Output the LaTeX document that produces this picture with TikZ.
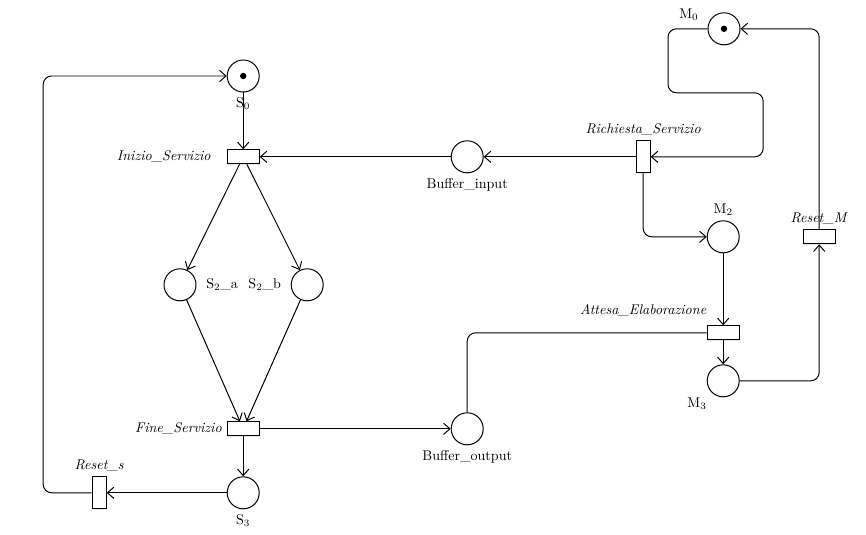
\documentclass[tikz,border=0pt]{standalone}
\usetikzlibrary{petri,arrows.meta,shadows}

\begin{document}
\begin{tikzpicture}[
  >={Straight Barb[length=1.6mm,width=2.8mm]},
  every place/.style={draw,line width=0.7pt,fill=white,minimum size=0.8cm,
    drop shadow={shadow xshift=0.5pt,shadow yshift=-0.6pt,opacity=0.2}},
  every transition/.style={draw,line width=0.7pt,fill=white,
    drop shadow={shadow xshift=0.5pt,shadow yshift=-0.6pt,opacity=0.2}},
  htrans/.style={transition,minimum width=0.8cm,minimum height=0.35cm,inner sep=0pt},
  vtrans/.style={transition,minimum width=0.35cm,minimum height=0.8cm,inner sep=0pt},
  every token/.style={fill=black,minimum size=1.6mm,inner sep=0pt},
  arc/.style={->,line width=0.7pt,rounded corners=6pt},
  label distance=0pt
]

\useasboundingbox (0,0) rectangle (21.65,13.35);

% places
\node[place,tokens=1,label=below:S$_0$] (s0) at (6.08,11.45) {};
\node[place,tokens=1,label={[yshift=0.35cm,label distance=0.1cm]left:M$_0$}] (m0) at (18.1,12.63) {};
\node[place,label=below:Buffer\_input] (bin) at (11.68,9.43) {};
\node[place,label=above:M$_2$] (m2) at (18.08,7.43) {};
\node[place,label={[label distance=0.12cm]right:S$_2$\_a}] (s2a) at (4.5,6.23) {};
\node[place,label={[label distance=0.12cm]left:S$_2$\_b}] (s2b) at (7.68,6.23) {};
\node[place,label=below left:M$_3$] (m3) at (18.08,3.83) {};
\node[place,label=below:Buffer\_output] (bout) at (11.68,2.63) {};
\node[place,label=below:S$_3$] (s3) at (6.08,1.03) {};

% transitions
\node[htrans,label={[label distance=0.28cm]left:\textit{Inizio\_Servizio}}] (ini) at (6.08,9.43) {};
\node[vtrans,label=above:\textit{Richiesta\_Servizio}] (ric) at (16.08,9.43) {};
\node[htrans,label=above:\textit{Reset\_M}] (resm) at (20.48,7.43) {};
\node[htrans,label={[xshift=-2cm,yshift=0.1cm]above:\textit{Attesa\_Elaborazione}}] (att) at (18.08,5.03) {};
\node[htrans,label=left:\textit{Fine\_Servizio}] (fine) at (6.08,2.63) {};
\node[vtrans,label=above:\textit{Reset\_s}] (ress) at (2.48,1.03) {};

% arcs
\draw[arc] (s0) -- (ini);
\draw[arc] (bin) -- (ini);
\draw[arc] (ric) -- (bin);
\draw[arc] (m0.west) -| (16.7,11.03) -| (19.08,9.43) -- (ric.east);
\draw[arc] (ric.south) |- (m2.west);
\draw[arc] (m2) -- (att);
\draw[arc] (att) -- (m3);
\draw[line width=0.7pt,rounded corners=6pt] (bout.north) |- (att.west);
\draw[arc] (m3.east) -| (resm.south);
\draw[arc] (resm.north) |- (m0.east);
\draw[arc] (ini) -- (s2a);
\draw[arc] (ini) -- (s2b);
\draw[arc] (s2a) -- (fine);
\draw[arc] (s2b) -- (fine);
\draw[arc] (fine) -- (bout);
\draw[arc] (fine) -- (s3);
\draw[arc] (s3) -- (ress);
\draw[arc] (ress.west) -| (1.08,11.45) -- (s0.west);

\end{tikzpicture}
\end{document}
